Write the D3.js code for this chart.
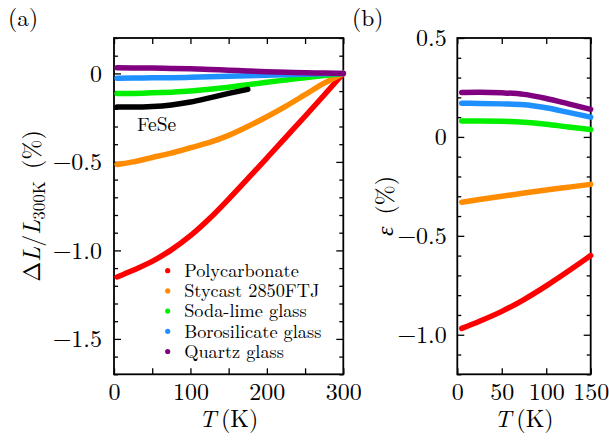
<!DOCTYPE html>
<html>
<head>
<meta charset="utf-8">
<script src="https://cdn.jsdelivr.net/npm/d3@7"></script>
<style>
  html, body { margin: 0; padding: 0; background: #fff; }
  svg { display: block; }
</style>
</head>
<body>
<svg id="chart" width="609" height="442"></svg>
<script>
// ---- Panel (a): thermal contraction ΔL/L(300 K) versus temperature ----
const tempA = [4, 25, 50, 75, 100, 125, 150, 175, 200, 225, 250, 275, 300];
const polycarbonateA = [-1.15, -1.112, -1.062, -0.997, -0.917, -0.82, -0.71, -0.595, -0.478, -0.36, -0.242, -0.122, 0];
const stycastA = [-0.515, -0.50, -0.475, -0.45, -0.42, -0.39, -0.35, -0.30, -0.245, -0.185, -0.12, -0.055, 0];
const sodaLimeA = [-0.113, -0.113, -0.11, -0.106, -0.10, -0.09, -0.078, -0.064, -0.05, -0.037, -0.024, -0.012, 0];
const borosilicateA = [-0.027, -0.026, -0.025, -0.024, -0.022, -0.019, -0.016, -0.013, -0.010, -0.007, -0.005, -0.002, 0];
const quartzA = [0.032, 0.031, 0.030, 0.028, 0.026, 0.022, 0.018, 0.014, 0.010, 0.007, 0.004, 0.002, 0];
const tempFeSe = [4, 25, 50, 75, 100, 125, 150, 175];
const feSeA = [-0.19, -0.19, -0.187, -0.178, -0.162, -0.138, -0.113, -0.09];

// ---- Panel (b): strain ε versus temperature ----
const tempB = [5, 25, 50, 75, 100, 125, 150];
const polycarbonateB = [-0.968, -0.932, -0.882, -0.822, -0.753, -0.678, -0.60];
const stycastB = [-0.33, -0.316, -0.30, -0.284, -0.268, -0.254, -0.24];
const sodaLimeB = [0.080, 0.080, 0.079, 0.074, 0.064, 0.050, 0.037];
const borosilicateB = [0.170, 0.169, 0.167, 0.163, 0.147, 0.124, 0.100];
const quartzB = [0.225, 0.226, 0.223, 0.215, 0.194, 0.167, 0.139];

const materials = ["Polycarbonate", "Stycast 2850FTJ", "Soda-lime glass", "Borosilicate glass", "Quartz glass"];
const colors = ["#ff0000", "#ff8c00", "#00f000", "#1e90ff", "#800080"];

// tick values
const xTicksA = [0, 50, 100, 150, 200, 250, 300];
const xLabelsA = [0, 100, 200, 300];
const yMajorA = [0, -0.5, -1.0, -1.5];
const xTicksB = [0, 50, 100, 150];
const yMajorB = [0.5, 0, -0.5, -1.0];

const FONT = "'Latin Modern Roman', 'CMU Serif', 'Liberation Serif', serif";
const svg = d3.select("#chart");
const fmt = v => v === 0 ? "0" : d3.format(".1f")(v);

function minorTicks(domain) {
  const lo = Math.ceil(domain[0] * 10 - 1e-9), hi = Math.floor(domain[1] * 10 + 1e-9);
  return d3.range(lo, hi + 1).map(k => k / 10).filter(v => Math.abs(v * 2 - Math.round(v * 2)) > 1e-6);
}

function text(parent, x, y, size) {
  return parent.append("text").attr("x", x).attr("y", y)
    .attr("font-family", FONT).attr("font-size", size).attr("fill", "#000");
}

function panel(cfg) {
  const x = d3.scaleLinear().domain(cfg.xDomain).range([cfg.left, cfg.right]);
  const y = d3.scaleLinear().domain(cfg.yDomain).range([cfg.bottom, cfg.top]);
  const g = svg.append("g");

  const styleAxis = sel => {
    sel.select(".domain").remove();
    sel.selectAll("line").attr("stroke", "#000").attr("stroke-width", 1.3);
    sel.selectAll("text").attr("fill", "#000").attr("font-size", 24).attr("font-family", FONT);
  };

  // bottom / top ticks (pointing inward)
  g.append("g").attr("transform", `translate(0,${cfg.bottom})`)
    .call(d3.axisBottom(x).tickValues(cfg.xTicks).tickSizeInner(-6).tickSizeOuter(0).tickPadding(9)
      .tickFormat(d => cfg.xLabels.includes(d) ? d : ""))
    .call(styleAxis);
  g.append("g").attr("transform", `translate(0,${cfg.top})`)
    .call(d3.axisTop(x).tickValues(cfg.xTicks).tickSizeInner(-6).tickSizeOuter(0).tickFormat(""))
    .call(styleAxis);

  // left / right major ticks
  g.append("g").attr("transform", `translate(${cfg.left},0)`)
    .call(d3.axisLeft(y).tickValues(cfg.yMajor).tickSizeInner(-7).tickSizeOuter(0).tickPadding(cfg.yPad).tickFormat(fmt))
    .call(styleAxis);
  g.append("g").attr("transform", `translate(${cfg.right},0)`)
    .call(d3.axisRight(y).tickValues(cfg.yMajor).tickSizeInner(-7).tickSizeOuter(0).tickFormat(""))
    .call(styleAxis);

  // minor ticks every 0.1
  const minors = minorTicks(cfg.yDomain);
  g.append("g").attr("transform", `translate(${cfg.left},0)`)
    .call(d3.axisLeft(y).tickValues(minors).tickSizeInner(-4).tickSizeOuter(0).tickFormat(""))
    .call(styleAxis);
  g.append("g").attr("transform", `translate(${cfg.right},0)`)
    .call(d3.axisRight(y).tickValues(minors).tickSizeInner(-4).tickSizeOuter(0).tickFormat(""))
    .call(styleAxis);

  // frame
  g.append("rect")
    .attr("x", cfg.left).attr("y", cfg.top)
    .attr("width", cfg.right - cfg.left).attr("height", cfg.bottom - cfg.top)
    .attr("fill", "none").attr("stroke", "#000").attr("stroke-width", 1.8);

  // data curves
  const line = d3.line().x(d => x(d[0])).y(d => y(d[1])).curve(d3.curveMonotoneX);
  cfg.series.forEach(s => {
    g.append("path")
      .datum(s.t.map((t, i) => [t, s.v[i]]))
      .attr("d", line)
      .attr("fill", "none")
      .attr("stroke", s.color)
      .attr("stroke-width", 5.5)
      .attr("stroke-linecap", "round")
      .attr("stroke-linejoin", "round");
  });

  // x axis label: T (K)
  const xl = text(g, (cfg.left + cfg.right) / 2, 427, 24).attr("text-anchor", "middle");
  xl.append("tspan").attr("font-style", "italic").text("T");
  xl.append("tspan").text("\u2009(K)");

  return { x, y, g };
}

panel({
  left: 114, right: 343.3, top: 38, bottom: 374.3,
  xDomain: [0, 300], yDomain: [-1.7, 0.2],
  xTicks: xTicksA, xLabels: xLabelsA, yMajor: yMajorA, yPad: 12,
  series: [
    { t: tempA, v: polycarbonateA, color: colors[0] },
    { t: tempA, v: stycastA, color: colors[1] },
    { t: tempA, v: sodaLimeA, color: colors[2] },
    { t: tempA, v: borosilicateA, color: colors[3] },
    { t: tempA, v: quartzA, color: colors[4] },
    { t: tempFeSe, v: feSeA, color: "#000000" }
  ]
});

panel({
  left: 457.3, right: 590.7, top: 38, bottom: 374.3,
  xDomain: [0, 150], yDomain: [-1.2, 0.5],
  xTicks: xTicksB, xLabels: xTicksB, yMajor: yMajorB, yPad: 10.5,
  series: [
    { t: tempB, v: polycarbonateB, color: colors[0] },
    { t: tempB, v: stycastB, color: colors[1] },
    { t: tempB, v: sodaLimeB, color: colors[2] },
    { t: tempB, v: borosilicateB, color: colors[3] },
    { t: tempB, v: quartzB, color: colors[4] }
  ]
});

// y label of panel (a): ΔL/L_300K (%)
const yla = text(svg, 0, 0, 24)
  .attr("transform", "translate(40,206) rotate(-90)")
  .attr("text-anchor", "middle");
yla.append("tspan").text("\u0394");
yla.append("tspan").attr("font-style", "italic").text("L");
yla.append("tspan").text("/");
yla.append("tspan").attr("font-style", "italic").text("L");
yla.append("tspan").attr("font-size", 17).attr("dy", 5).text("300K");
yla.append("tspan").attr("dy", -5).text("\u2002(%)");

// y label of panel (b): ε (%)
const ylb = text(svg, 0, 0, 24)
  .attr("transform", "translate(393,206) rotate(-90)")
  .attr("text-anchor", "middle");
ylb.append("tspan").attr("font-style", "italic").text("\u03b5");
ylb.append("tspan").text("\u2002(%)");

// panel tags
text(svg, 8, 26, 23.5).text("(a)");
text(svg, 352, 26, 23.5).text("(b)");

// FeSe annotation
text(svg, 137, 130.5, 19.5).text("FeSe");

// legend
const legend = svg.append("g").attr("transform", "translate(167.7,270.7)");
materials.forEach((m, i) => {
  const row = legend.append("g").attr("transform", `translate(0,${i * 20.2})`);
  row.append("circle").attr("r", 2.6).attr("fill", colors[i]);
  text(row, 16.5, 6.3, 18.3).text(m);
});
</script>
</body>
</html>
